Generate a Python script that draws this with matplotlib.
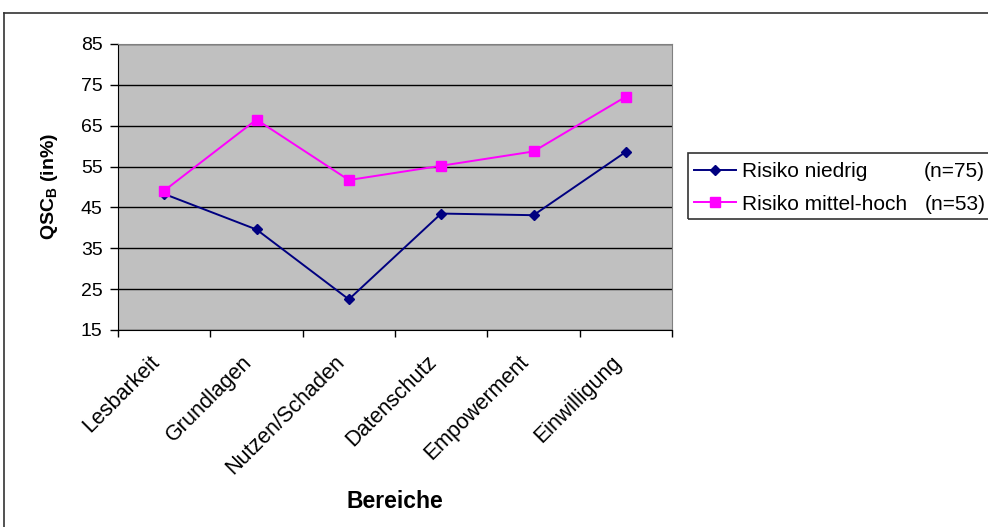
import matplotlib
matplotlib.use("Agg")
import matplotlib.pyplot as plt
import matplotlib.transforms as mtransforms
from matplotlib.patches import Rectangle
from matplotlib.lines import Line2D

plt.rcParams['font.family'] = ['Liberation Sans', 'DejaVu Sans']

categories = ["Lesbarkeit", "Grundlagen", "Nutzen/Schaden", "Datenschutz",
              "Empowerment", "Einwilligung"]
risiko_niedrig = [48.3, 39.6, 22.5, 43.5, 43.1, 58.6]
risiko_mittel_hoch = [49.1, 66.5, 51.7, 55.2, 58.7, 72.1]
series_labels = ["Risiko niedrig", "Risiko mittel-hoch"]
series_n = ["(n=75)", "(n=53)"]
y_ticks = [15, 25, 35, 45, 55, 65, 75, 85]

W, H = 988, 527
fig = plt.figure(figsize=(W / 100, H / 100), dpi=100)
fig.patch.set_facecolor("white")

# outer chart frame (top and left edges)
fig.add_artist(Line2D([4 / W, 4 / W], [0, 1 - 13 / H], transform=fig.transFigure,
                      color="#333333", lw=1.2))
fig.add_artist(Line2D([4 / W, 1], [1 - 13 / H, 1 - 13 / H], transform=fig.transFigure,
                      color="#333333", lw=1.2))

ax = fig.add_axes([118 / W, 1 - 330 / H, 554 / W, 286 / H])
ax.set_facecolor("#C0C0C0")

x = list(range(len(categories)))
l1, = ax.plot(x, risiko_niedrig, color="#000080", lw=1.4, marker="D",
              markersize=5.5, markerfacecolor="#000080", markeredgecolor="#000080")
l2, = ax.plot(x, risiko_mittel_hoch, color="#FF00FF", lw=1.4, marker="s",
              markersize=6.5, markerfacecolor="#FF00FF", markeredgecolor="#FF00FF")

ax.set_xlim(-0.5, len(categories) - 0.5)
ax.set_ylim(15, 85)
ax.set_yticks(y_ticks)
ax.yaxis.grid(True, color="black", lw=1.0)
ax.set_axisbelow(True)

# category boundaries carry the tick marks, labels sit at the centres
ax.set_xticks([i - 0.5 for i in range(len(categories) + 1)])
ax.set_xticklabels([])
ax.set_xticks(x, minor=True)
ax.set_xticklabels(categories, minor=True, rotation=45, ha="right",
                   rotation_mode="anchor", fontsize=15.5)
ax.tick_params(axis="x", which="minor", length=0, pad=12)
ax.tick_params(axis="x", which="major", length=5, width=1, color="black")
ax.tick_params(axis="y", length=6, width=1, labelsize=14, pad=5)

shift = mtransforms.ScaledTranslation(-15 / 100, -5 / 100, fig.dpi_scale_trans)
for lbl in ax.get_xticklabels(minor=True):
    lbl.set_transform(lbl.get_transform() + shift)

for side in ["top", "right"]:
    ax.spines[side].set_color("#808080")
for side in ["left", "bottom"]:
    ax.spines[side].set_color("black")

ax.set_ylabel("QSC$_\\mathregular{B}$ (in%)", fontsize=14, fontweight="bold", labelpad=15)
ax.set_xlabel("Bereiche", fontsize=16.5, fontweight="bold", labelpad=8)

# legend
leg = fig.legend([l1, l2], series_labels, loc="upper left",
                 bbox_to_anchor=(692 / W, 1 - 160 / H), frameon=False,
                 fontsize=15, handlelength=2.0, handletextpad=0.3,
                 labelspacing=0.65, borderaxespad=0, borderpad=0.1)
fig.add_artist(Rectangle((688 / W, 1 - 219 / H), (W + 10 - 688) / W, 66 / H,
                         transform=fig.transFigure, fill=False,
                         edgecolor="#333333", lw=1.2))
fig.canvas.draw()
for txt, n_label, x_px in zip(leg.get_texts(), series_n, [924, 925]):
    bb = txt.get_window_extent()
    fig.text(x_px / W, bb.y0 / H, n_label, fontsize=15, va="bottom", ha="left")

fig.savefig("out.png", dpi=100)
